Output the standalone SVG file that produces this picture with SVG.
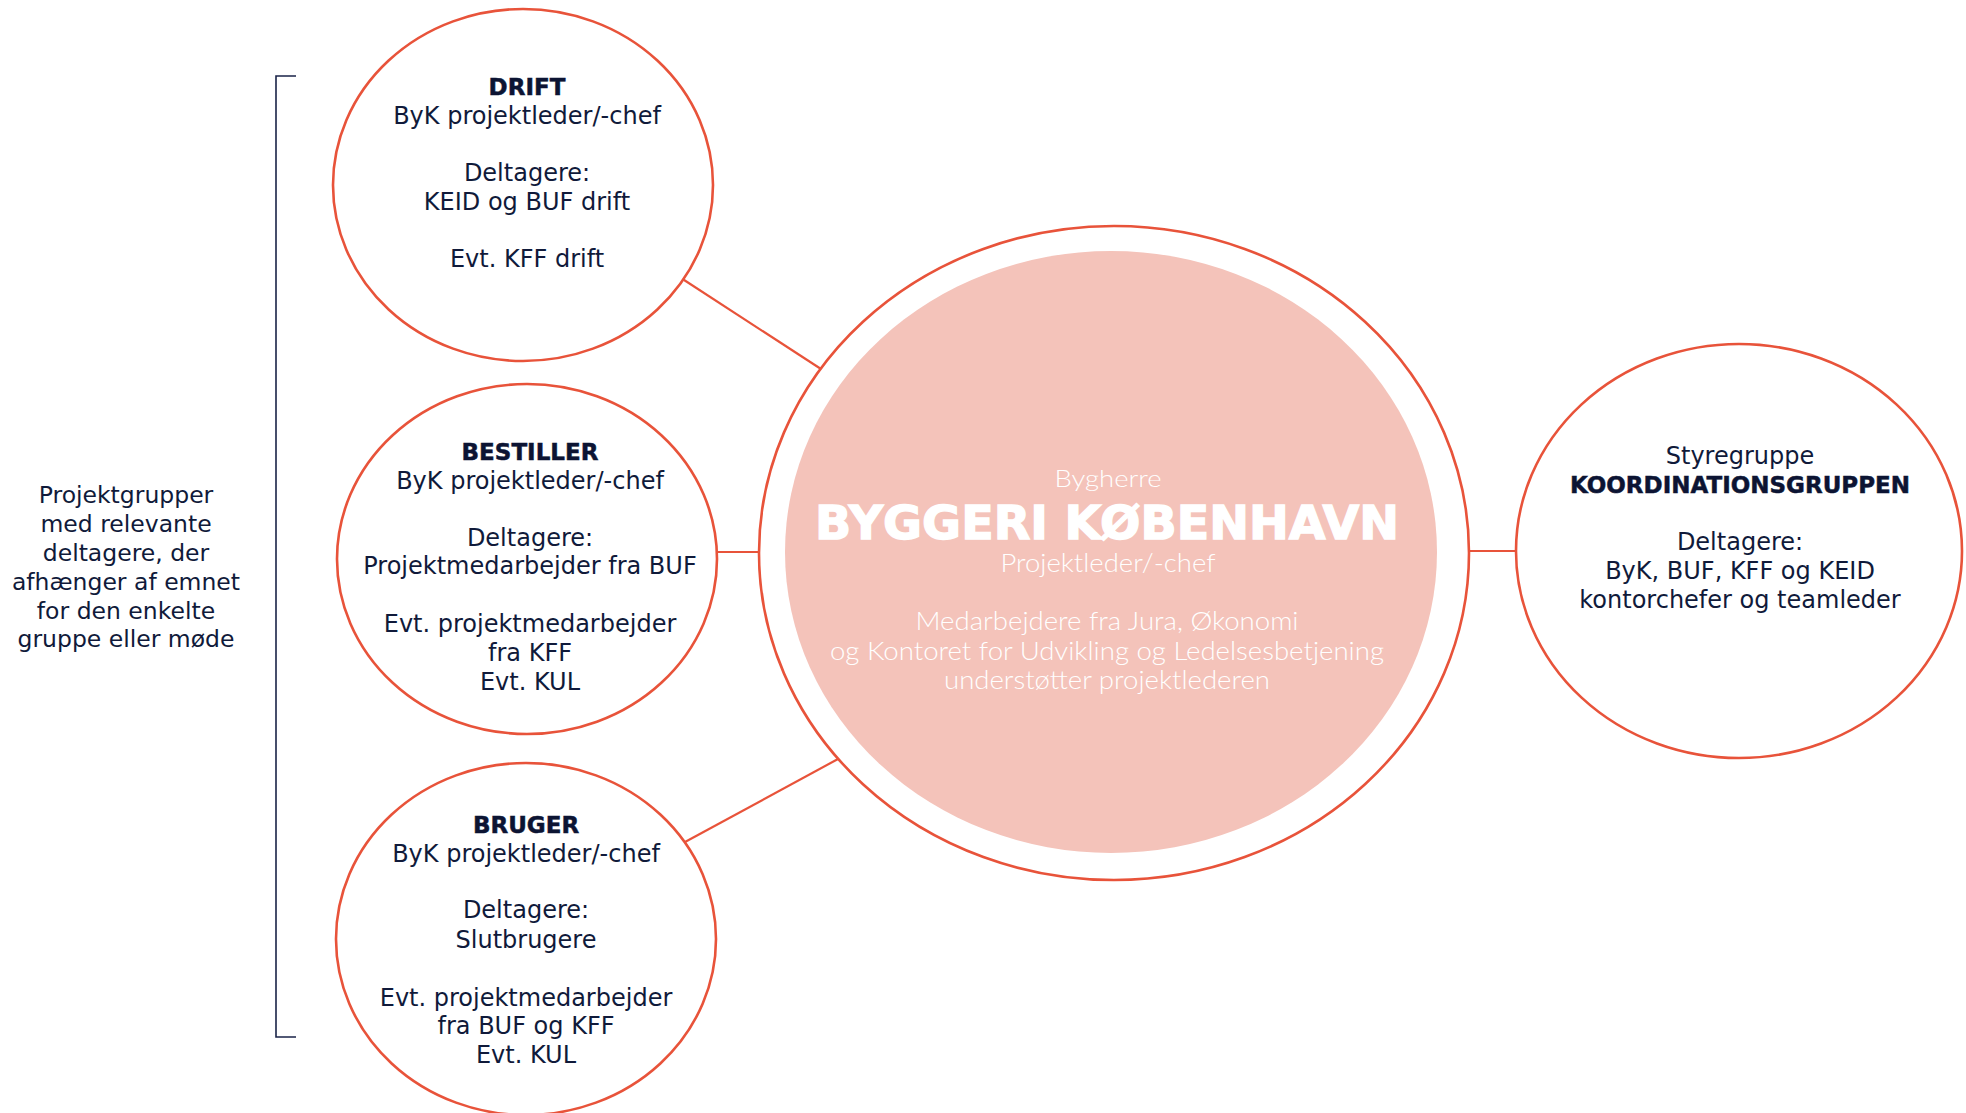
<svg xmlns="http://www.w3.org/2000/svg" width="1966" height="1113" viewBox="0 0 1966 1113">
<style>
.ring{fill:#fff;stroke:#E8533A;stroke-width:2.6}
.conn{stroke:#E8533A;stroke-width:2.2;fill:none}
.t{font-family:"DejaVu Sans","Liberation Sans",sans-serif;font-size:24px;fill:#101A3A;text-anchor:middle}
.l{font-family:"DejaVu Sans","Liberation Sans",sans-serif;font-size:23.5px;fill:#101A3A;text-anchor:middle}
.h{font-family:"DejaVu Sans","Liberation Sans",sans-serif;font-size:23px;font-weight:bold;fill:#0C1433;stroke:#0C1433;stroke-width:0.5;text-anchor:middle}
.w{font-family:Lato,"Open Sans","DejaVu Sans",sans-serif;font-weight:300;fill:#fff;text-anchor:middle}
</style>
<rect width="1966" height="1113" fill="#fff"/>
<g id="connectors">
<line class="conn" x1="681" y1="278" x2="821" y2="369"/>
<line class="conn" x1="717" y1="552" x2="760" y2="552"/>
<line class="conn" x1="685" y1="842" x2="838" y2="759"/>
<line class="conn" x1="1469" y1="551" x2="1516" y2="551"/>
</g>
<g id="bracket">
<path d="M296 76 H276 V1037 H296" fill="none" stroke="#1A2348" stroke-width="1.6"/>
<text class="l" x="126" y="503">Projektgrupper</text>
<text class="l" x="126" y="532">med relevante</text>
<text class="l" x="126" y="561">deltagere, der</text>
<text class="l" x="126" y="590">afhænger af emnet</text>
<text class="l" x="126" y="619">for den enkelte</text>
<text class="l" x="126" y="647">gruppe eller møde</text>
</g>
<g id="drift">
<ellipse class="ring" cx="523" cy="185" rx="190" ry="176"/>
<text class="h" x="527" y="95">DRIFT</text>
<text class="t" x="527" y="124">ByK projektleder/-chef</text>
<text class="t" x="527" y="181">Deltagere:</text>
<text class="t" x="527" y="210">KEID og BUF drift</text>
<text class="t" x="527" y="267">Evt. KFF drift</text>
</g>
<g id="bestiller">
<ellipse class="ring" cx="527" cy="559" rx="190" ry="175"/>
<text class="h" x="530" y="460">BESTILLER</text>
<text class="t" x="530" y="489">ByK projektleder/-chef</text>
<text class="t" x="530" y="546">Deltagere:</text>
<text class="t" x="530" y="574">Projektmedarbejder fra BUF</text>
<text class="t" x="530" y="632">Evt. projektmedarbejder</text>
<text class="t" x="530" y="661">fra KFF</text>
<text class="t" x="530" y="690">Evt. KUL</text>
</g>
<g id="bruger">
<ellipse class="ring" cx="526" cy="939" rx="190" ry="176"/>
<text class="h" x="526" y="833">BRUGER</text>
<text class="t" x="526" y="862">ByK projektleder/-chef</text>
<text class="t" x="526" y="918">Deltagere:</text>
<text class="t" x="526" y="948">Slutbrugere</text>
<text class="t" x="526" y="1006">Evt. projektmedarbejder</text>
<text class="t" x="526" y="1034">fra BUF og KFF</text>
<text class="t" x="526" y="1063">Evt. KUL</text>
</g>
<g id="byggeri-koebenhavn">
<ellipse class="ring" cx="1114" cy="553" rx="355" ry="327"/>
<ellipse cx="1111" cy="552" rx="326" ry="301" fill="#F4C3BA"/>
<text class="w" x="1108" y="487" font-size="23" textLength="107" lengthAdjust="spacingAndGlyphs">Bygherre</text>
<text x="1107" y="539" font-family="'DejaVu Sans','Liberation Sans',sans-serif" font-size="47" font-weight="bold" fill="#fff" stroke="#fff" stroke-width="1.4" text-anchor="middle" textLength="584" lengthAdjust="spacingAndGlyphs">BYGGERI KØBENHAVN</text>
<text class="w" x="1108" y="572" font-size="25" textLength="215" lengthAdjust="spacingAndGlyphs">Projektleder/-chef</text>
<text class="w" x="1107" y="630" font-size="25" textLength="383" lengthAdjust="spacingAndGlyphs">Medarbejdere fra Jura, Økonomi</text>
<text class="w" x="1107" y="660" font-size="25" textLength="554" lengthAdjust="spacingAndGlyphs">og Kontoret for Udvikling og Ledelsesbetjening</text>
<text class="w" x="1107" y="689" font-size="25" textLength="326" lengthAdjust="spacingAndGlyphs">understøtter projektlederen</text>
</g>
<g id="koordinationsgruppen">
<ellipse class="ring" cx="1739" cy="551" rx="223" ry="207"/>
<text class="t" x="1740" y="464">Styregruppe</text>
<text class="h" x="1740" y="493">KOORDINATIONSGRUPPEN</text>
<text class="t" x="1740" y="550">Deltagere:</text>
<text class="t" x="1740" y="579">ByK, BUF, KFF og KEID</text>
<text class="t" x="1740" y="608">kontorchefer og teamleder</text>
</g>
</svg>
